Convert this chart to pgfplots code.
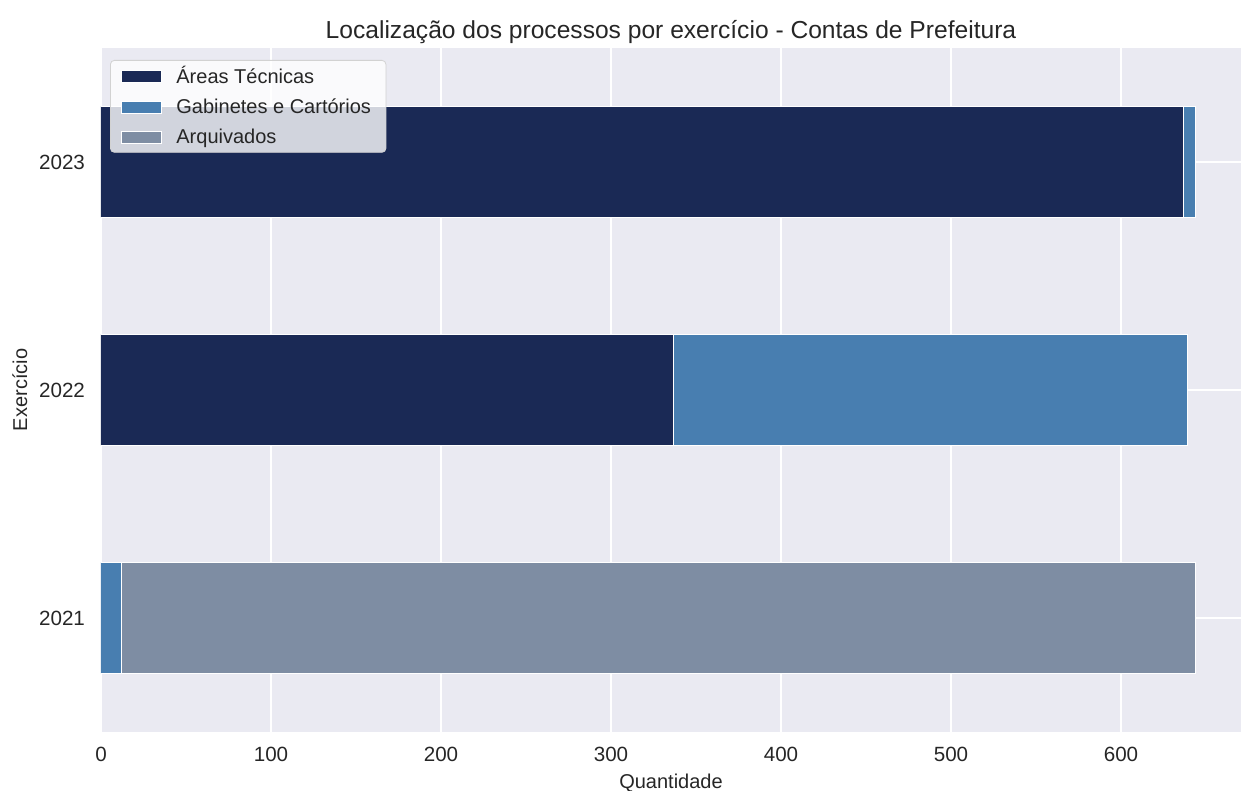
\documentclass[border=0pt]{standalone}
\usepackage{pgfplots}
\pgfplotsset{compat=1.18}
\usepackage{fontspec}
\setmainfont{Liberation Sans}
\definecolor{bgc}{HTML}{EAEAF2}
\definecolor{c1}{HTML}{1A2955}
\definecolor{c2}{HTML}{487EB0}
\definecolor{c3}{HTML}{7E8DA3}
\definecolor{txt}{HTML}{262626}
\begin{document}
\begin{tikzpicture}
\begin{axis}[name=ax, scale only axis, width=570pt, height=342pt,
  xbar stacked, bar width=55.5pt,
  xmin=0, xmax=670.6, ymin=-0.5, ymax=2.5,
  ytick={0,1,2}, yticklabels={2021,2022,2023},
  xtick={0,100,...,600},
  /pgf/number format/assume math mode=true,
  axis background/.style={fill=bgc},
  axis line style={draw=none},
  major tick length=0pt,
  grid=major, grid style={white, line width=1pt},
  tick label style={font=\fontsize{10.3}{12}\selectfont, text=txt},
  xticklabel style={yshift=-4pt},
  yticklabel style={xshift=-4.5pt},
  xlabel={Quantidade}, ylabel={Exercício},
  label style={font=\fontsize{10}{12}\selectfont, text=txt},
  xlabel style={at={(axis description cs:0.5,-0.0746)}, anchor=center},
  ylabel style={at={(axis description cs:-0.0711,0.5)}, anchor=center},
  title={Localização dos processos por exercício - Contas de Prefeitura},
  title style={at={(axis description cs:0.5,1.0263)}, anchor=center, yshift=-7pt, font=\fontsize{12.3}{14}\selectfont, text=txt},
  legend style={at={(axis description cs:0.0079,0.9825)}, anchor=north west,
    fill=white, fill opacity=0.8, text opacity=1, draw=lightgray!70, rounded corners=2pt,
    font=\fontsize{10}{12}\selectfont, text=txt, row sep=2.1pt, column sep=5pt, inner xsep=5.5pt, inner ysep=1pt},
  legend cell align=left,
  legend image code/.code={\draw[#1, draw=white, line width=0.5pt, sharp corners, fill opacity=1] (0pt,-3pt) rectangle (20pt,3pt);},
]
\addplot[fill=c1, draw=white, line width=0.5pt] coordinates {(0,0) (337,1) (637,2)};
\addplot[fill=c2, draw=white, line width=0.5pt] coordinates {(12,0) (302,1) (7,2)};
\addplot[fill=c3, draw=white, line width=0.5pt] coordinates {(632,0) (0,1) (0,2)};
\legend{Áreas Técnicas, Gabinetes e Cartórios, Arquivados}
\end{axis}
\pgfresetboundingbox
\path ([xshift=-50.5pt,yshift=-29.5pt]ax.south west) rectangle ([yshift=24pt]ax.north east);
\end{tikzpicture}
\end{document}
